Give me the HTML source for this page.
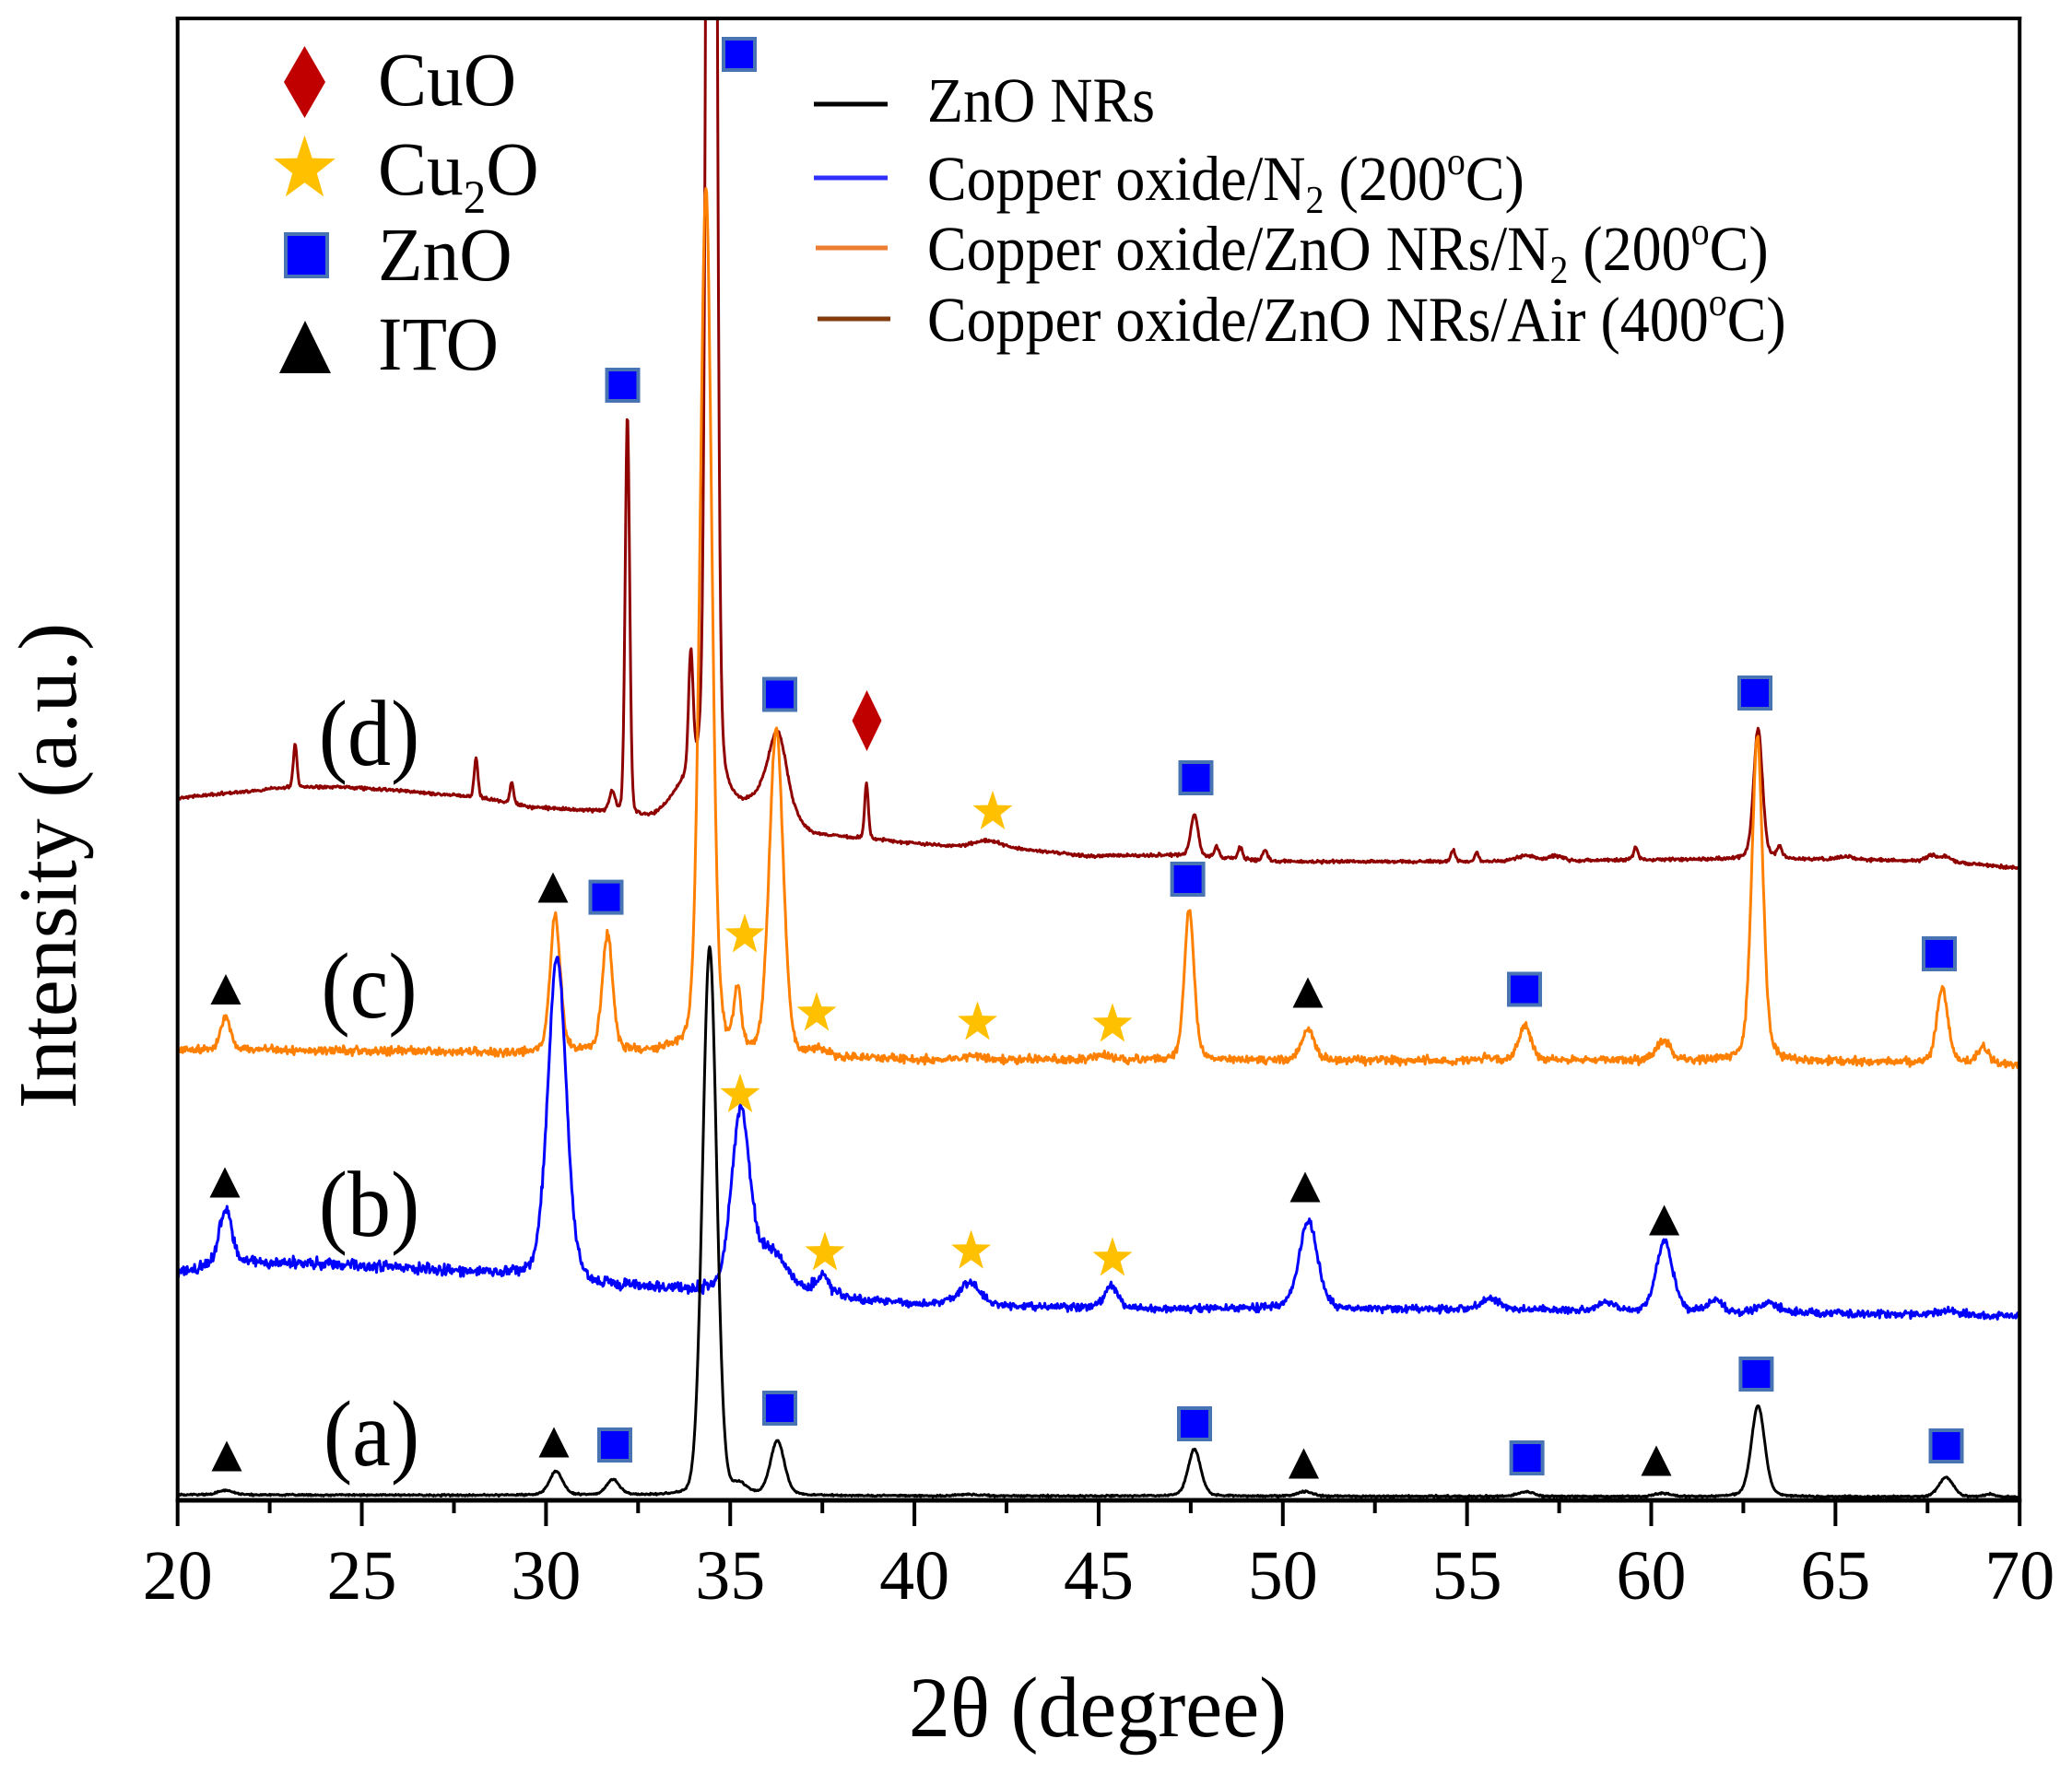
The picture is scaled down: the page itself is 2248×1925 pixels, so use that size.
<!DOCTYPE html>
<html>
<head>
<meta charset="utf-8">
<style>
html,body{margin:0;padding:0;background:#fff;overflow:hidden;width:2248px;height:1925px;}
svg{display:block;}
text{font-family:"Liberation Serif","Times New Roman",serif;fill:#000;}
</style>
</head>
<body>
<svg id="s" width="2248" height="1925" viewBox="0 0 2248 1925" xmlns="http://www.w3.org/2000/svg">
<defs>
<clipPath id="cp"><rect x="192.7" y="20" width="1998.5" height="1608"/></clipPath>
</defs>
<rect x="0" y="0" width="2248" height="1925" fill="#fff"/>

<!-- curves -->
<g clip-path="url(#cp)" fill="none" stroke-width="3" stroke-linejoin="round" stroke-linecap="round">
<path id="cd" stroke="#8f0000" d=""/>
<path id="cc" stroke="#ff8000" d=""/>
<path id="cb" stroke="#0000ff" d=""/>
<path id="ca" stroke="#000000" d=""/>
</g>

<!-- frame -->
<g stroke="#000" fill="none">
<line x1="192.7" y1="18" x2="192.7" y2="1630" stroke-width="4"/>
<line x1="190.7" y1="20" x2="2193.2" y2="20" stroke-width="4"/>
<line x1="2191.2" y1="18" x2="2191.2" y2="1630" stroke-width="4"/>
<line x1="190.7" y1="1628" x2="2193.2" y2="1628" stroke-width="5"/>
<g stroke-width="4">
<line x1="192.7" y1="1628" x2="192.7" y2="1656"/>
<line x1="392.55" y1="1628" x2="392.55" y2="1656"/>
<line x1="592.4" y1="1628" x2="592.4" y2="1656"/>
<line x1="792.25" y1="1628" x2="792.25" y2="1656"/>
<line x1="992.1" y1="1628" x2="992.1" y2="1656"/>
<line x1="1191.95" y1="1628" x2="1191.95" y2="1656"/>
<line x1="1391.8" y1="1628" x2="1391.8" y2="1656"/>
<line x1="1591.65" y1="1628" x2="1591.65" y2="1656"/>
<line x1="1791.5" y1="1628" x2="1791.5" y2="1656"/>
<line x1="1991.35" y1="1628" x2="1991.35" y2="1656"/>
<line x1="2191.2" y1="1628" x2="2191.2" y2="1656"/>
</g>
<g stroke-width="4">
<line x1="292.6" y1="1628" x2="292.6" y2="1642"/>
<line x1="492.5" y1="1628" x2="492.5" y2="1642"/>
<line x1="692.3" y1="1628" x2="692.3" y2="1642"/>
<line x1="892.2" y1="1628" x2="892.2" y2="1642"/>
<line x1="1092.0" y1="1628" x2="1092.0" y2="1642"/>
<line x1="1291.9" y1="1628" x2="1291.9" y2="1642"/>
<line x1="1491.7" y1="1628" x2="1491.7" y2="1642"/>
<line x1="1691.6" y1="1628" x2="1691.6" y2="1642"/>
<line x1="1891.4" y1="1628" x2="1891.4" y2="1642"/>
<line x1="2091.3" y1="1628" x2="2091.3" y2="1642"/>
</g>
</g>

<!-- tick labels -->
<g font-size="76" text-anchor="middle">
<text x="192.7" y="1735">20</text>
<text x="392.55" y="1735">25</text>
<text x="592.4" y="1735">30</text>
<text x="792.25" y="1735">35</text>
<text x="992.1" y="1735">40</text>
<text x="1191.95" y="1735">45</text>
<text x="1391.8" y="1735">50</text>
<text x="1591.65" y="1735">55</text>
<text x="1791.5" y="1735">60</text>
<text x="1991.35" y="1735">65</text>
<text x="2191.2" y="1735">70</text>
</g>

<!-- axis titles -->
<g transform="translate(1191,1884) scale(1,1.04)"><text x="0" y="0" font-size="90" text-anchor="middle">2θ (degree)</text></g>
<text transform="translate(82,939.5) rotate(-90)" font-size="90" text-anchor="middle">Intensity (a.u.)</text>

<!-- series labels -->
<g font-size="94" text-anchor="middle">
<g transform="translate(400.5,830) scale(1,1.08)"><text x="0" y="0">(d)</text></g>
<g transform="translate(400.5,1104) scale(1,1.08)"><text x="0" y="0">(c)</text></g>
<g transform="translate(400.5,1341) scale(1,1.08)"><text x="0" y="0">(b)</text></g>
<g transform="translate(403,1590) scale(1,1.08)"><text x="0" y="0">(a)</text></g>
</g>

<!-- ZnO squares -->
<g fill="#0000ff" stroke="#4874b4" stroke-width="4">
<rect x="785" y="42" width="34" height="34"/>
<rect x="658.5" y="401" width="34" height="34"/>
<rect x="829" y="736.5" width="34" height="34"/>
<rect x="1280.5" y="827" width="34" height="34"/>
<rect x="1887" y="735" width="34" height="34"/>
<rect x="640.5" y="956.6" width="34" height="34"/>
<rect x="1271.6" y="937" width="34" height="34"/>
<rect x="1637" y="1056.5" width="34" height="34"/>
<rect x="2087" y="1018" width="34" height="34"/>
<rect x="650" y="1551" width="34" height="34"/>
<rect x="829" y="1511" width="34" height="34"/>
<rect x="1279" y="1528" width="34" height="34"/>
<rect x="1639.6" y="1565" width="34" height="34"/>
<rect x="1888.4" y="1474" width="34" height="34"/>
<rect x="2094.5" y="1552" width="34" height="34"/>
</g>

<!-- ITO triangles -->
<g fill="#000">
<polygon points="600,946.5 616.5,979.5 583.5,979.5"/>
<polygon points="245,1057 261.5,1090 228.5,1090"/>
<polygon points="1419,1060.5 1435.5,1093.5 1402.5,1093.5"/>
<polygon points="244,1266.5 260.5,1299.5 227.5,1299.5"/>
<polygon points="1416,1271.5 1432.5,1304.5 1399.5,1304.5"/>
<polygon points="1805.6,1307.5 1822.1,1340.5 1789.1,1340.5"/>
<polygon points="246,1563.5 262.5,1596.5 229.5,1596.5"/>
<polygon points="601,1548.5 617.5,1581.5 584.5,1581.5"/>
<polygon points="1414.5,1571.5 1431,1604.5 1398,1604.5"/>
<polygon points="1797,1568.5 1813.5,1601.5 1780.5,1601.5"/>
</g>

<!-- Cu2O stars -->
<g fill="#ffc000">
<polygon transform="translate(1077,881.2) scale(1,1.03)" points="0,-22.6 5.31,-7.31 21.49,-6.98 8.6,2.79 13.28,18.28 0,9.04 -13.28,18.28 -8.6,2.79 -21.49,-6.98 -5.31,-7.31"/>
<polygon transform="translate(808,1014.7) scale(1,1.03)" points="0,-22.6 5.31,-7.31 21.49,-6.98 8.6,2.79 13.28,18.28 0,9.04 -13.28,18.28 -8.6,2.79 -21.49,-6.98 -5.31,-7.31"/>
<polygon transform="translate(886,1099.7) scale(1,1.03)" points="0,-22.6 5.31,-7.31 21.49,-6.98 8.6,2.79 13.28,18.28 0,9.04 -13.28,18.28 -8.6,2.79 -21.49,-6.98 -5.31,-7.31"/>
<polygon transform="translate(1060.5,1109.7) scale(1,1.03)" points="0,-22.6 5.31,-7.31 21.49,-6.98 8.6,2.79 13.28,18.28 0,9.04 -13.28,18.28 -8.6,2.79 -21.49,-6.98 -5.31,-7.31"/>
<polygon transform="translate(1207,1111.7) scale(1,1.03)" points="0,-22.6 5.31,-7.31 21.49,-6.98 8.6,2.79 13.28,18.28 0,9.04 -13.28,18.28 -8.6,2.79 -21.49,-6.98 -5.31,-7.31"/>
<polygon transform="translate(803,1188.2) scale(1,1.03)" points="0,-22.6 5.31,-7.31 21.49,-6.98 8.6,2.79 13.28,18.28 0,9.04 -13.28,18.28 -8.6,2.79 -21.49,-6.98 -5.31,-7.31"/>
<polygon transform="translate(895,1359.7) scale(1,1.03)" points="0,-22.6 5.31,-7.31 21.49,-6.98 8.6,2.79 13.28,18.28 0,9.04 -13.28,18.28 -8.6,2.79 -21.49,-6.98 -5.31,-7.31"/>
<polygon transform="translate(1053.6,1357.8) scale(1,1.03)" points="0,-22.6 5.31,-7.31 21.49,-6.98 8.6,2.79 13.28,18.28 0,9.04 -13.28,18.28 -8.6,2.79 -21.49,-6.98 -5.31,-7.31"/>
<polygon transform="translate(1207,1365.7) scale(1,1.03)" points="0,-22.6 5.31,-7.31 21.49,-6.98 8.6,2.79 13.28,18.28 0,9.04 -13.28,18.28 -8.6,2.79 -21.49,-6.98 -5.31,-7.31"/>
</g>

<!-- CuO diamond -->
<polygon points="940.5,749 956.5,782 940.5,815 924.5,782" fill="#c00000"/>

<!-- left legend (phases) -->
<polygon points="330.5,50 353,89 330.5,128 308,89" fill="#c00000"/>
<polygon fill="#ffc000" transform="translate(330.5,183.5) scale(1.549,1.626)" points="0,-22.6 5.31,-7.31 21.49,-6.98 8.6,2.79 13.28,18.28 0,9.04 -13.28,18.28 -8.6,2.79 -21.49,-6.98 -5.31,-7.31"/>
<rect x="310" y="254" width="45" height="46" fill="#0000ff" stroke="#4874b4" stroke-width="4"/>
<polygon points="331,348 359,405 303,405" fill="#000"/>

<g font-size="79.5">
<g transform="translate(410,114) scale(1,1.045)"><text x="0" y="0">CuO</text></g>
<g transform="translate(410,211) scale(1,1.045)"><text x="0" y="0">Cu<tspan font-size="49" dy="19">2</tspan><tspan dy="-19">O</tspan></text></g>
<g transform="translate(410,304) scale(1,1.045)"><text x="0" y="0">ZnO</text></g>
<g transform="translate(410,401) scale(1,1.045)"><text x="0" y="0">ITO</text></g>
</g>

<!-- right legend (series) -->
<g stroke-width="5">
<line x1="883" y1="113" x2="963" y2="113" stroke="#000"/>
<line x1="883" y1="193" x2="963" y2="193" stroke="#2f2fff"/>
<line x1="885" y1="269" x2="963" y2="269" stroke="#ed7d31"/>
<line x1="887" y1="346" x2="966" y2="346" stroke="#843c0c"/>
</g>
<g font-size="64">
<g transform="translate(1006,132) scale(1,1.07)"><text x="0" y="0">ZnO NRs</text></g>
<g transform="translate(1006,217) scale(1,1.07)"><text x="0" y="0">Copper oxide/N<tspan font-size="40" dy="13">2</tspan><tspan dy="-13"> (200</tspan><tspan font-size="40" dy="-26">o</tspan><tspan dy="26">C)</tspan></text></g>
<g transform="translate(1006,293) scale(1,1.07)"><text x="0" y="0">Copper oxide/ZnO NRs/N<tspan font-size="40" dy="13">2</tspan><tspan dy="-13"> (200</tspan><tspan font-size="40" dy="-26">o</tspan><tspan dy="26">C)</tspan></text></g>
<g transform="translate(1006,370) scale(1,1.07)"><text x="0" y="0">Copper oxide/ZnO NRs/Air (400<tspan font-size="40" dy="-26">o</tspan><tspan dy="26">C)</tspan></text></g>
</g>
</svg>

<script>
(function(){
function X(d){return 192.7+(d-20)*39.97;}
function interp(p,d){
  if(d<=p[0][0]) return p[0][1];
  for(var i=0;i<p.length-1;i++){
    if(d<=p[i+1][0]){var t=(d-p[i][0])/(p[i+1][0]-p[i][0]);return p[i][1]+t*(p[i+1][1]-p[i][1]);}
  }
  return p[p.length-1][1];
}
function pv(d,c,h,s,e){
  var dx=d-c;var g=Math.exp(-dx*dx/(2*s*s));var gm=s*1.1774;var l=gm*gm/(dx*dx+gm*gm);
  return h*((1-e)*g+e*l);
}
var seed=12345;
function rnd(){seed=(seed*16807)%2147483647;return seed/2147483647;}
function nrand(){return (rnd()+rnd()+rnd()-1.5)/1.5;}
function build(base,peaks,nz){
  var s='';
  for(var i=0;i<=2500;i++){
    var d=20+i*0.02;
    var y=interp(base,d);
    for(var k=0;k<peaks.length;k++){var q=peaks[k];y-=pv(d,q[0],q[1],q[2],q[3]);}
    y+=nrand()*nz(d);
    s+=(i?'L':'M')+X(d).toFixed(1)+' '+y.toFixed(1);
  }
  return s;
}
var baseA=[[20,1622],[35,1623],[50,1623.5],[70,1624.5]];
var pkA=[[21.3,5,0.2,0.3],[30.27,26,0.18,0.3],[31.82,17,0.18,0.3],[34.44,595,0.19,0.1],[35.25,11,0.2,0.3],
[36.28,59,0.19,0.25],[41.5,1.5,0.3,0],[47.6,51,0.17,0.25],[50.6,5,0.2,0.3],[56.6,5,0.22,0.3],[60.3,3.5,0.2,0.3],
[62.9,99,0.18,0.25],[68.0,21,0.2,0.25],[69.2,3,0.15,0.3]];
var baseB=[[20,1381],[21,1374],[22,1370],[24,1372],[26,1376],[28,1380],[29.5,1384],[31,1392],[33,1398],[34.5,1402],
[36.5,1401],[37.5,1405],[38.5,1411],[40,1415],[43,1418],[46,1420],[50,1420],[55,1421],[60,1423],[65,1425],[70,1428]];
var pkB=[[21.3,62,0.17,0.4],[30.3,350,0.25,0.2],[35.28,194,0.25,0.3],[36.1,40,0.4,0],[37.5,20,0.2,0.3],
[41.5,24,0.3,0.3],[45.35,24,0.18,0.3],[50.69,96,0.25,0.25],[55.65,12,0.25,0.3],[58.8,10,0.2,0.3],
[60.36,77,0.22,0.25],[61.75,12,0.2,0.3],[63.2,11,0.25,0.3],[68,4,0.3,0]];
var baseC=[[20,1140],[22,1139],[26,1141],[29.5,1143],[33,1142],[37,1147],[40,1150],[60,1151],[65,1152],[70,1155]];
var pkC=[[21.3,36,0.13,0.3],[30.25,148,0.14,0.3],[31.67,128,0.14,0.3],[34.34,939,0.16,0.25],[35.2,62,0.1,0.2],
[36.25,353,0.19,0.2],[37.4,7,0.2,0],[41.6,4,0.3,0],[45.1,4,0.3,0],[47.46,165,0.13,0.3],[50.68,33,0.17,0.3],
[55.5,5,0.1,0],[56.57,38,0.17,0.3],[60.34,20,0.2,0.3],[62.88,351,0.15,0.3],[67.9,82,0.15,0.3],[69.0,18,0.15,0.3]];
var baseD=[[20,866],[21.5,860],[22.9,855],[24.5,854],[26,858],[27.66,864],[28.5,868],[29.5,876],[31.5,881],[32.8,889],
[33.5,886],[34.5,880],[35.5,880],[36.5,890],[37.2,907],[38.3,910],[39.3,913],[41.4,920],[42.1,918],[44.7,929],
[47,928],[50,935],[55,935],[60,933],[63,932],[66,933],[68,935],[70,942]];
var pkD=[[23.19,47,0.05,0.2],[28.1,44,0.05,0.2],[29.07,24,0.05,0.2],[31.8,22,0.08,0.2],[32.21,434,0.06,0.15],
[33.93,126,0.06,0.15],[34.0,35,0.5,0],[34.49,3000,0.1,0.15],[36.0,15,0.3,0],[36.3,83,0.25,0.5],[38.7,61,0.05,0.2],
[41.9,6,0.4,0],[47.6,46,0.1,0.2],[48.2,12,0.06,0.2],[48.84,13,0.06,0.2],[49.52,12,0.06,0.2],[54.62,12,0.06,0.2],
[55.27,9,0.06,0.2],[56.6,6,0.25,0],[57.4,5,0.2,0],[59.58,14,0.06,0.2],[62.9,142,0.12,0.25],[63.48,12,0.07,0.2],
[65.3,3,0.2,0],[67.6,6,0.15,0],[68.0,6,0.15,0]];

document.getElementById('ca').setAttribute('d',build(baseA,pkA,function(d){return 1.3;}));
document.getElementById('cb').setAttribute('d',build(baseB,pkB,function(d){return d<38?8.5:6;}));
document.getElementById('cc').setAttribute('d',build(baseC,pkC,function(d){return 6.5;}));
document.getElementById('cd').setAttribute('d',build(baseD,pkD,function(d){return 2.5;}));
})();
</script>
</body>
</html>
